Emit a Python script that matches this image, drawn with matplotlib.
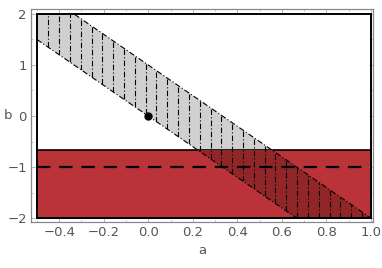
import numpy as np
import matplotlib.pyplot as plt
from matplotlib.patches import Polygon, Rectangle
from matplotlib.ticker import MultipleLocator

# plot range
a_min, a_max = -0.5, 1.0
b_min, b_max = -2.0, 2.0

# band: slope * a <= b <= slope * a + width
slope = -3.0
width = 1.0

# red region: b <= red_top, dashed line at b = dash_level
red_top = -2.0 / 3.0
dash_level = -1.0

# point
point_a = [0.0]
point_b = [0.0]

fig = plt.figure(figsize=(3.82, 2.68), dpi=100)
ax = fig.add_axes([0.081, 0.173, 0.895, 0.793])
ax.set_xlim(-0.527, 1.009)
ax.set_ylim(-2.07, 2.095)

# red rectangle
red = Rectangle((a_min, b_min), a_max - a_min, red_top - b_min,
                facecolor="#b93338", edgecolor="black", lw=1.2, zorder=1)
ax.add_patch(red)
ax.plot([a_min, a_max], [dash_level, dash_level], color="black", lw=1.6,
        dashes=(6, 4), zorder=4)

# band polygon clipped to the plot range
a_grid = np.linspace(a_min, a_max, 400)
lower = np.clip(slope * a_grid, b_min, b_max)
upper = np.clip(slope * a_grid + width, b_min, b_max)
keep = upper > lower
xs = np.concatenate([a_grid[keep], a_grid[keep][::-1]])
ys = np.concatenate([upper[keep], lower[keep][::-1]])
verts = np.column_stack([xs, ys])
band = Polygon(verts, closed=True, facecolor="#d0d0d0", edgecolor="none", zorder=0.5)
ax.add_patch(band)
overlap = Polygon(verts, closed=True, facecolor="#912628", edgecolor="none", zorder=1.5)
ax.add_patch(overlap)
overlap.set_clip_path(red)

# band edges
dashdot = (0, (5, 2, 1, 2))
ax.plot(a_grid[keep], np.where(slope * a_grid + width <= b_max, slope * a_grid + width, np.nan)[keep],
        color="black", lw=0.8, ls=dashdot, zorder=3)
ax.plot(a_grid[keep], np.where(slope * a_grid >= b_min, slope * a_grid, np.nan)[keep],
        color="black", lw=0.8, ls=dashdot, zorder=3)

# vertical dash-dot hatching
for xh in np.arange(-0.449, a_max, 0.0486):
    lo = max(slope * xh, b_min)
    hi = min(slope * xh + width, b_max)
    if hi > lo:
        ln, = ax.plot([xh, xh], [lo, hi], color="black", lw=0.8,
                      ls=dashdot, zorder=3)
        ln.set_clip_path(band)

# outer plot-range rectangle
ax.add_patch(Rectangle((a_min, b_min), a_max - a_min, b_max - b_min,
                       facecolor="none", edgecolor="black", lw=1.4, zorder=5))

ax.plot(point_a, point_b, "o", color="black", markersize=5, zorder=6)

for s in ax.spines.values():
    s.set_color("#888888")
    s.set_linewidth(0.9)

ax.set_xticks([-0.4, -0.2, 0.0, 0.2, 0.4, 0.6, 0.8, 1.0])
ax.set_xticklabels(["\u22120.4", "\u22120.2", "0.0", "0.2", "0.4", "0.6", "0.8", "1.0"])
ax.set_yticks([-2, -1, 0, 1, 2])
ax.set_yticklabels(["\u22122", "\u22121", "0", "1", "2"])
ax.xaxis.set_minor_locator(MultipleLocator(0.1))
ax.yaxis.set_minor_locator(MultipleLocator(0.5))
ax.tick_params(which="both", direction="in", top=True, right=True,
               color="#aaaaaa", labelcolor="#555555", labelsize=9.5)
ax.tick_params(which="major", length=3, width=0.6, pad=3)
ax.tick_params(which="minor", length=1.5, width=0.5)

ax.set_xlabel("a", color="#555555", fontsize=9.5, labelpad=4)
ax.set_ylabel("b", color="#555555", fontsize=9.5, rotation=0, ha="center", va="center")
ax.yaxis.set_label_coords(-0.068, 0.5)

fig.savefig("out.png", dpi=100)
